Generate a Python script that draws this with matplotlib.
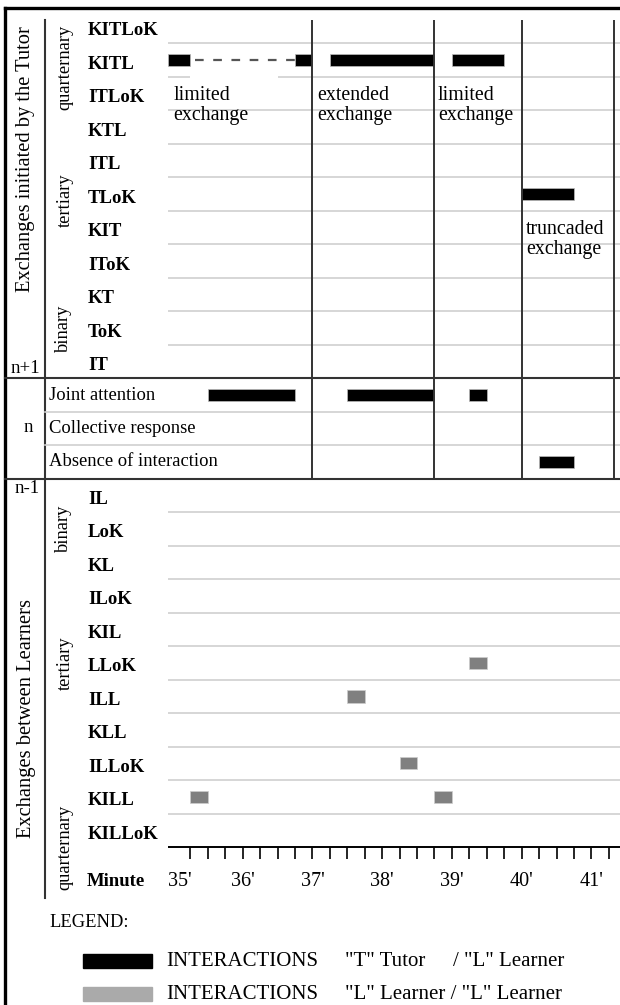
import matplotlib
matplotlib.use("Agg")
import matplotlib.pyplot as plt
from matplotlib.patches import Rectangle
from matplotlib.transforms import blended_transform_factory

plt.rcParams["font.family"] = ["Liberation Serif", "DejaVu Serif"]

# ---------------------------------------------------------------
# data
# ---------------------------------------------------------------
tutor_rows = ["KITLoK", "KITL", "ITLoK", "KTL", "ITL", "TLoK",
              "KIT", "IToK", "KT", "ToK", "IT"]
middle_rows = ["Joint attention", "Collective response", "Absence of interaction"]
learner_rows = ["IL", "LoK", "KL", "ILoK", "KIL", "LLoK",
                "ILL", "KLL", "ILLoK", "KILL", "KILLoK"]

# tutor / learner interactions (black): row, start minute, end minute
black_rows = ["KITL", "KITL", "KITL", "KITL", "TLoK",
              "Joint attention", "Joint attention", "Joint attention",
              "Absence of interaction"]
black_start = [34.93, 36.75, 37.25, 39.00, 40.00, 35.50, 37.50, 39.25, 40.25]
black_end = [35.25, 37.00, 38.75, 39.75, 40.75, 36.75, 38.75, 39.50, 40.75]

# dashed continuation in KITL
dash_row = "KITL"
dash_start, dash_end = 35.25, 36.75

# learner / learner interactions (grey)
grey_rows = ["LLoK", "ILL", "ILLoK", "KILL", "KILL"]
grey_start = [39.25, 37.50, 38.25, 35.25, 38.75]
grey_end = [39.50, 37.75, 38.50, 35.50, 39.00]

# exchange phases
phase_bounds = [37.00, 38.75, 40.00, 41.33]
phase_labels = ["limited\nexchange", "extended\nexchange", "limited\nexchange",
                "truncaded\nexchange"]
phase_label_x = [35.01, 37.07, 38.80, 40.06]
phase_label_row = [2.28, 2.28, 2.28, 6.28]

minutes = [35, 36, 37, 38, 39, 40, 41]
quarter_ticks = [35 + 0.25 * k for k in range(1, 26)]

# ---------------------------------------------------------------
# layout
# ---------------------------------------------------------------
W, H = 620, 1005
X_LEFT, X_RIGHT = 34.93, 41.41
all_rows = tutor_rows + middle_rows + learner_rows
row_idx = {name: i for i, name in enumerate(all_rows)}
n_rows = len(all_rows)

fig = plt.figure(figsize=(W / 100, H / 100), dpi=100)
deco = fig.add_axes([0, 0, 1, 1])
deco.set_xlim(0, W)
deco.set_ylim(H, 0)
deco.axis("off")

ax = fig.add_axes([168 / W, 1 - 847 / H, (620 - 168) / W, (847 - 10) / H])
ax.set_xlim(X_LEFT, X_RIGHT)
ax.set_ylim(n_rows, 0)
ax.axis("off")
ax.patch.set_alpha(0)

trans = blended_transform_factory(deco.transData, ax.transData)
RH = (847 - 10) / n_rows

GRID = "#cfcfcf"
DARK = "#333333"

# grid lines
n_t, n_m = len(tutor_rows), len(middle_rows)
for i in range(1, n_t):
    if i == 2:
        ax.hlines(i, X_LEFT, 35.25, color=GRID, lw=1.2)
        ax.hlines(i, 36.5, X_RIGHT, color=GRID, lw=1.2)
    else:
        ax.hlines(i, X_LEFT, X_RIGHT, color=GRID, lw=1.2)
for i in range(n_t + 1, n_t + n_m):
    ax.plot([45, W], [i, i], color=GRID, lw=1.2, transform=trans, clip_on=False)
for i in range(n_t + n_m + 1, n_rows):
    ax.hlines(i, X_LEFT, X_RIGHT, color=GRID, lw=1.2)

# section dividers
for i in (n_t, n_t + n_m):
    ax.plot([5, W], [i, i], color=DARK, lw=1.5, transform=trans, clip_on=False)

# phase separators
ax.vlines(phase_bounds, 0.3, n_t + n_m, color=DARK, lw=1.4)

# time axis
ax.hlines(n_rows, X_LEFT, X_RIGHT, color="black", lw=1.4, clip_on=False)
ax.vlines(quarter_ticks, n_rows, n_rows + 12 / RH, color="black", lw=1.2, clip_on=False)
for m in minutes:
    if m == minutes[0]:
        ax.text(X_LEFT, n_rows + 1.03, f"{m}'", ha="left", va="center", fontsize=14.5)
    else:
        ax.text(m, n_rows + 1.03, f"{m}'", ha="center", va="center", fontsize=14.5)
ax.text(87, n_rows + 1.03, "Minute", transform=trans, ha="left", va="center",
        fontsize=13.5, fontweight="bold")

# bars
for r, s, e in zip(black_rows, black_start, black_end):
    ax.barh(row_idx[r] + 0.5, e - s, left=s, height=0.37, color="black",
            edgecolor="#bbbbbb", lw=0.5)
for r, s, e in zip(grey_rows, grey_start, grey_end):
    ax.barh(row_idx[r] + 0.5, e - s, left=s, height=0.37, color="#808080",
            edgecolor="#cccccc", lw=0.5)
ax.plot([dash_start + 0.07, dash_end], [row_idx[dash_row] + 0.5] * 2,
        color="#555555", lw=1.6, linestyle=(0, (3.9, 4.3)))

# phase labels
for lab, x, y in zip(phase_labels, phase_label_x, phase_label_row):
    ax.text(x, y, lab, ha="left", va="top", fontsize=14.3, linespacing=1.05)

# row labels
for name in tutor_rows + learner_rows:
    ax.text(88, row_idx[name] + 0.62, name, transform=trans, ha="left",
            va="center", fontsize=13.5, fontweight="bold")
for name in middle_rows:
    ax.text(49, row_idx[name] + 0.5, name, transform=trans, ha="left",
            va="center", fontsize=13.4)

# left column
deco.plot([45, 45], [20, 898], color=DARK, lw=1.5)
deco.plot([5, 5], [8, H], color="black", lw=2.4)
deco.plot([5, W], [8, 8], color="black", lw=2.4)

deco.text(25, 368, "n+1", ha="center", va="center", fontsize=13.5)
deco.text(28, 427, "n", ha="center", va="center", fontsize=13.5)
deco.text(27, 488, "n-1", ha="center", va="center", fontsize=13.5)

deco.text(26, 159, "Exchanges initiated by the Tutor", rotation=90,
          ha="center", va="center", fontsize=14.8)
deco.text(27, 718, "Exchanges between Learners", rotation=90,
          ha="center", va="center", fontsize=14.8)

group_labels = ["quarternary", "tertiary", "binary", "binary", "tertiary", "quarternary"]
group_x = [65, 65, 63, 63, 65, 65]
group_y = [67, 200, 328, 528, 663, 847]
for lab, gx, gy in zip(group_labels, group_x, group_y):
    deco.text(gx, gy, lab, rotation=90, ha="center", va="center", fontsize=13.3)

# legend
deco.text(49, 922, "LEGEND:", ha="left", va="center", fontsize=13.3)
deco.add_patch(Rectangle((83, 954), 69, 14, color="black"))
deco.add_patch(Rectangle((83, 987), 69, 14, color="#aaaaaa"))
deco.text(166, 961, "INTERACTIONS", ha="left", va="center", fontsize=15)
deco.text(345, 961, '"T" Tutor', ha="left", va="center", fontsize=15)
deco.text(453, 961, '/ "L" Learner', ha="left", va="center", fontsize=15)
deco.text(166, 994, "INTERACTIONS", ha="left", va="center", fontsize=15)
deco.text(345, 994, '"L" Learner / "L" Learner', ha="left", va="center", fontsize=15)

fig.savefig("out.png", dpi=100)
